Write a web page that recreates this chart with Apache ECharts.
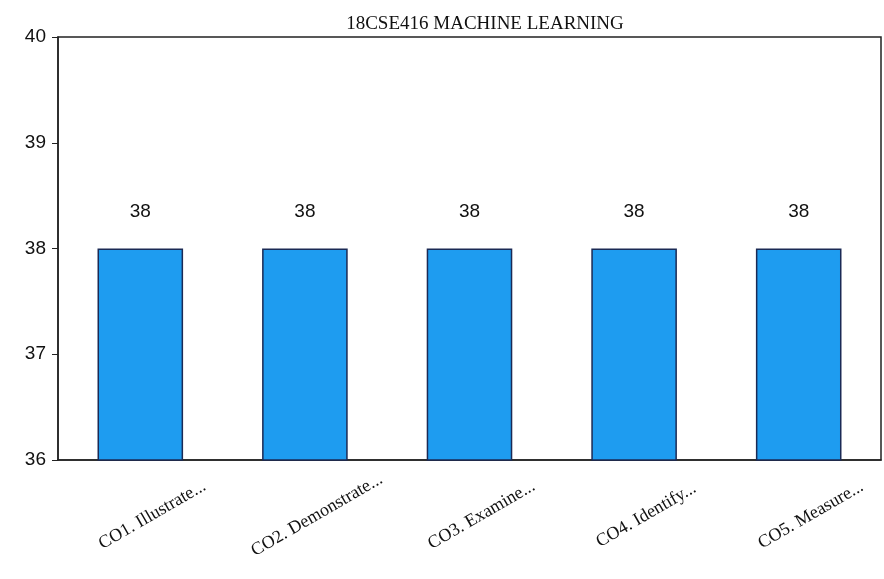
<!DOCTYPE html>
<html>
<head>
<meta charset="utf-8">
<script src="https://cdn.jsdelivr.net/npm/echarts@6/dist/echarts.min.js"></script>
<style>
html,body{margin:0;padding:0;background:#fff;}
#chart{width:884px;height:579px;}
</style>
</head>
<body>
<div id="chart"></div>
<script>
const chartTitle = "18CSE416 MACHINE LEARNING";
const categories = ["CO1. Illustrate...", "CO2. Demonstrate...", "CO3. Examine...", "CO4. Identify...", "CO5. Measure..."];
const values = [38, 38, 38, 38, 38];
const yTicks = [36, 37, 38, 39, 40];

const chart = echarts.init(document.getElementById('chart'));
chart.setOption({
  backgroundColor: '#ffffff',
  animation: false,
  title: {
    text: chartTitle,
    left: 480, top: 10, textAlign: 'center',
    textStyle: { fontFamily: 'Liberation Serif', fontSize: 19, fontWeight: 'normal', color: '#111' }
  },
  grid: {
    left: 58, right: 3, top: 37, bottom: 119,
    show: true, borderColor: '#222', borderWidth: 1.5, backgroundColor: 'transparent'
  },
  xAxis: {
    type: 'category',
    data: categories,
    axisLine: { lineStyle: { color: '#222', width: 1.5 } },
    axisTick: { alignWithLabel: true, length: 6, lineStyle: { color: '#222' } },
    axisLabel: {
      rotate: 30, align: 'center', verticalAlign: 'middle', margin: 62, interval: 0,
      padding: [0, 0, 0, 28],
      fontFamily: 'Liberation Serif', fontSize: 18, color: '#111'
    }
  },
  yAxis: {
    type: 'value',
    min: yTicks[0], max: yTicks[yTicks.length - 1], interval: 1,
    splitLine: { show: false },
    axisLine: { show: true, lineStyle: { color: '#222', width: 1.5 } },
    axisTick: { show: true, length: 6, lineStyle: { color: '#222' } },
    axisLabel: { fontFamily: 'Liberation Sans Narrow, Liberation Sans', fontSize: 19, color: '#111', margin: 12 }
  },
  series: [{
    type: 'bar',
    data: values,
    barWidth: '52%',
    itemStyle: { color: '#1E9CF0', borderColor: '#1b2a55', borderWidth: 1.5 },
    label: {
      show: true, position: 'top', distance: 27,
      fontFamily: 'Liberation Sans Narrow, Liberation Sans', fontSize: 19, color: '#111'
    }
  }]
});
</script>
</body>
</html>
